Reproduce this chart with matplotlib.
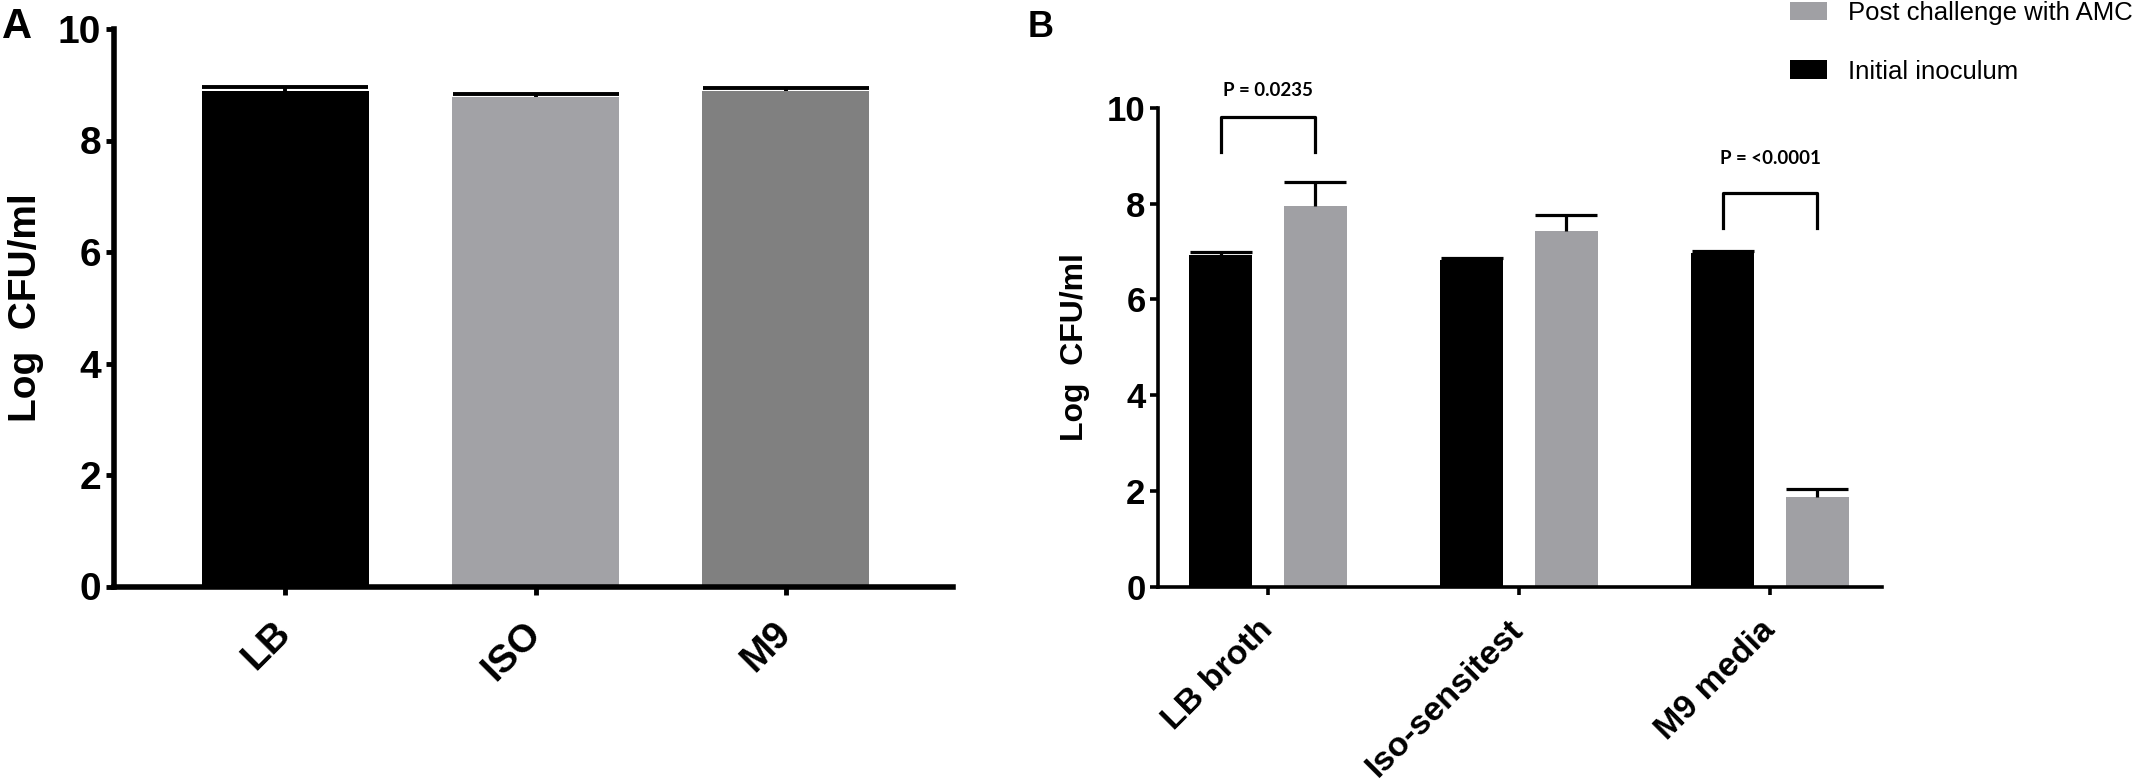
import numpy as np
import matplotlib
matplotlib.use("Agg")
import matplotlib.pyplot as plt

plt.rcParams["font.family"] = "Liberation Sans"

# Panel A: growth in each medium
media_a = ["LB", "ISO", "M9"]
a_mean = [8.89, 8.78, 8.89]
a_sem = [0.07, 0.05, 0.06]
a_colors = ["#000000", "#a2a2a6", "#808080"]

# Panel B: initial inoculum vs post challenge with AMC
media_b = ["LB broth", "Iso-sensitest", "M9 media"]
initial = [6.92, 6.83, 6.96]
initial_err = [0.07, 0.03, 0.05]
post = [7.95, 7.43, 1.88]
post_err = [0.49, 0.34, 0.16]

# significance brackets (group index, label, bracket top, leg end, text height)
p_groups = [0, 2]
p_labels = ["P = 0.0235", "P = <0.0001"]
bracket_top = [9.80, 8.23]
bracket_low = [9.07, 7.50]
p_text_y = [10.35, 8.93]

W, H = 2146, 779
fig = plt.figure(figsize=(W / 100, H / 100), dpi=100)

def px_axes(left, right, top, bottom):
    return fig.add_axes([left / W, 1 - bottom / H, (right - left) / W, (bottom - top) / H])

# upper-only error bars, GraphPad style
def upper_err(axis, x, y, err, lw, cap):
    _, caps, _ = axis.errorbar(x, y, yerr=[np.zeros(len(err)), err], fmt="none",
                               ecolor="black", elinewidth=lw, capsize=cap,
                               capthick=lw, zorder=2)
    caps[0].set_visible(False)

# ---------------- Panel A ----------------
ax = px_axes(113.5, 953, 29, 586.5)
xa = np.arange(len(media_a))
ax.bar(xa, a_mean, width=0.667, color=a_colors, zorder=1)
upper_err(ax, xa, a_mean, a_sem, 2.8, 60)
ax.set_xlim(-0.685, 2.667)
ax.set_ylim(0, 10)
ax.set_yticks([0, 2, 4, 6, 8, 10])
for s in ["top", "right"]:
    ax.spines[s].set_visible(False)
for s in ["left", "bottom"]:
    ax.spines[s].set_linewidth(4)
ax.tick_params(axis="both", width=3.5, length=5.5)
ax.tick_params(axis="x", pad=24)
ax.set_yticklabels([str(v) for v in [0, 2, 4, 6, 8, 10]], fontsize=28, fontweight="bold")
ax.set_xticks(xa)
ax.set_xticklabels(media_a, fontsize=28, fontweight="bold", rotation=45,
                   ha="right", va="center", rotation_mode="anchor")
ax.set_ylabel("Log  CFU/ml", fontsize=28, fontweight="bold", labelpad=10)
fig.text(2 / W, 1 - 7 / H, "A", fontsize=30, fontweight="bold", va="top", ha="left")

# ---------------- Panel B ----------------
bx = px_axes(1158, 1882, 107.7, 587)
xb = np.arange(len(media_b))
off, bw = 0.189, 0.251
black_bars = bx.bar(xb - off, initial, width=bw, color="#000000", zorder=1)
gray_bars = bx.bar(xb + off, post, width=bw, color="#a0a0a4", zorder=1)
upper_err(bx, xb - off, initial, initial_err, 2.3, 22)
upper_err(bx, xb + off, post, post_err, 2.3, 22)
bx.set_xlim(-0.438, 2.446)
bx.set_ylim(0, 10)
bx.set_yticks([0, 2, 4, 6, 8, 10])
for s in ["top", "right"]:
    bx.spines[s].set_visible(False)
for s in ["left", "bottom"]:
    bx.spines[s].set_linewidth(2.6)
bx.tick_params(axis="both", width=2.6, length=5.5)
bx.tick_params(axis="x", pad=22)
bx.set_yticklabels([str(v) for v in [0, 2, 4, 6, 8, 10]], fontsize=25, fontweight="bold")
bx.set_xticks(xb)
bx.set_xticklabels(media_b, fontsize=24.5, fontweight="bold", rotation=45,
                   ha="right", va="center", rotation_mode="anchor")
bx.set_ylabel("Log  CFU/ml", fontsize=23, fontweight="bold", labelpad=12)

for g, lab, yt, yl, ty in zip(p_groups, p_labels, bracket_top, bracket_low, p_text_y):
    x0, x1 = g - off, g + off
    bx.plot([x0, x0, x1, x1], [yl, yt, yt, yl], color="black", lw=2.3,
            solid_joinstyle="round", clip_on=False)
    bx.text(g, ty, lab, ha="center", va="center", fontsize=13.5,
            fontweight="bold", family="Lato")

fig.text(1028 / W, 1 - 10 / H, "B", fontsize=26, fontweight="bold", va="top", ha="left")

fig.legend([gray_bars, black_bars], ["Post challenge with AMC", "Initial inoculum"],
           loc="upper left", bbox_to_anchor=(1790 / W, 1 - 1 / H), frameon=False,
           fontsize=18.5, handlelength=1.44, handleheight=0.74, handletextpad=0.8,
           labelspacing=1.35, borderpad=0, borderaxespad=0)

fig.savefig("out.png", dpi=100)
